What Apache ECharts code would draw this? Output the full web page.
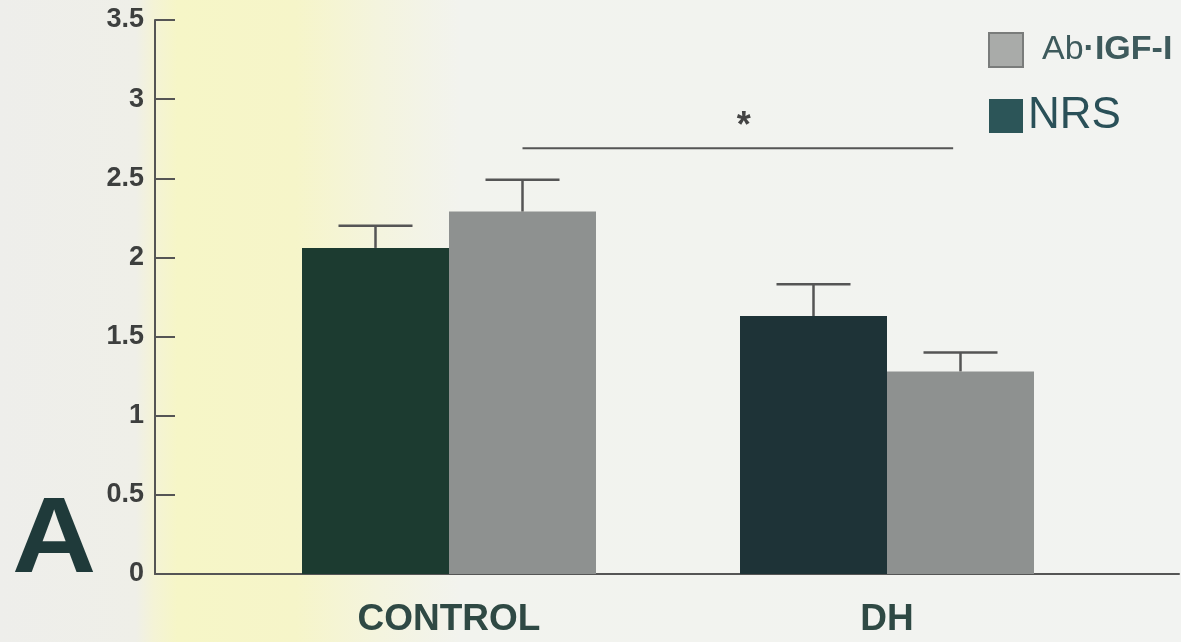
<!DOCTYPE html>
<html>
<head>
<meta charset="utf-8">
<script src="https://cdn.jsdelivr.net/npm/echarts@6/dist/echarts.min.js"></script>
<style>
  html, body { margin: 0; padding: 0; background: #f2f3f1; }
  #chart { width: 1181px; height: 642px; }
</style>
</head>
<body>
<div id="chart"></div>
<script>
// Group labels and series values (mean and upper error limit)
const categories = ['CONTROL', 'DH'];
const nrsMeans = [2.06, 1.63];
const nrsUpper = [2.20, 1.83];
const abMeans = [2.29, 1.28];
const abUpper = [2.49, 1.40];
const yTickValues = [0, 0.5, 1, 1.5, 2, 2.5, 3, 3.5];

// Significance bracket between CONTROL Ab·IGF-I and DH groups
const sigLevel = 2.69;
const starLevel = 2.86;

const BAR_W = 147;
const CAP_HALF = 37;
const nrsColors = ['#1c3b30', '#1e3337'];
const abColor = '#8e9190';

const chart = echarts.init(document.getElementById('chart'), null, { renderer: 'canvas' });

// error-bar rows: [categoryIndex, mean, upper, side(-1 left bar, +1 right bar)]
const errRows = [];
categories.forEach((c, i) => {
  errRows.push([i, nrsMeans[i], nrsUpper[i], -1]);
  errRows.push([i, abMeans[i], abUpper[i], 1]);
});

const option = {
  animation: false,
  backgroundColor: 'transparent',
  grid: [
    { left: 155, right: 2, top: 20, bottom: 68, containLabel: false, outerBoundsMode: 'none' },
    { left: 230, right: 75, top: 20, bottom: 68, containLabel: false, outerBoundsMode: 'none' }
  ],
  xAxis: [
    {
      gridIndex: 0, type: 'category', data: [''],
      axisLine: { show: true, lineStyle: { color: '#555', width: 2 } },
      axisTick: { show: false }, axisLabel: { show: false }, splitLine: { show: false }
    },
    {
      gridIndex: 1, type: 'category', data: categories,
      axisLine: { show: false }, axisTick: { show: false },
      axisLabel: {
        fontFamily: 'Liberation Sans, Arial, sans-serif', fontWeight: 'bold',
        fontSize: 37, color: '#2f4944', margin: 27,
        formatter: v => v,
        rich: {}
      }
    }
  ],
  yAxis: [
    {
      gridIndex: 0, type: 'value', min: 0, max: 3.5, interval: 0.5,
      axisLine: { show: true, lineStyle: { color: '#555', width: 2 } },
      axisTick: { show: true, inside: true, length: 20, lineStyle: { color: '#555', width: 2 } },
      axisLabel: {
        fontFamily: 'Liberation Sans, Arial, sans-serif', fontWeight: 'bold',
        fontSize: 27, color: '#3d3f3e', margin: 11, padding: [8, 0, 0, 0],
        formatter: v => (yTickValues.indexOf(v) >= 0 ? String(v) : '')
      },
      splitLine: { show: false }
    },
    { gridIndex: 1, type: 'value', min: 0, max: 3.5, interval: 0.5, show: false }
  ],
  legend: {
    orient: 'vertical', left: 983, top: 27,
    itemWidth: 34, itemHeight: 34, itemGap: 26,
    icon: 'rect', selectedMode: false,
    data: [
      { name: 'Ab·IGF-I', itemStyle: { color: '#a9aba9', borderColor: '#7a7c7b', borderWidth: 2 } },
      { name: 'NRS', itemStyle: { color: '#2c5558' } }
    ],
    formatter: name => (name === 'NRS' ? '{n|NRS}' : '{a|Ab}{b|·IGF-I}'),
    textStyle: {
      rich: {
        a: { fontFamily: 'Liberation Sans, Arial, sans-serif', fontSize: 34, color: '#3e5a5c', padding: [0, 0, 0, 14], lineHeight: 34 },
        b: { fontFamily: 'Liberation Sans, Arial, sans-serif', fontSize: 34, fontWeight: 'bold', color: '#3e5a5c', lineHeight: 34 },
        n: { fontFamily: 'Liberation Sans, Arial, sans-serif', fontSize: 44, color: '#2a5058', lineHeight: 38 }
      }
    }
  },
  graphic: [
    {
      type: 'rect', z: -10, silent: true,
      shape: { x: 0, y: 0, width: 1181, height: 642 },
      style: {
        fill: new echarts.graphic.LinearGradient(0, 0, 1, 0, [
          { offset: 0, color: '#eeeeeb' },
          { offset: 0.115, color: '#efefe8' },
          { offset: 0.13, color: '#f4f3d6' },
          { offset: 0.15, color: '#f6f6c7' },
          { offset: 0.25, color: '#f6f5c9' },
          { offset: 0.32, color: '#f4f4de' },
          { offset: 0.39, color: '#f2f3ee' },
          { offset: 1, color: '#f2f3f1' }
        ])
      }
    },
    {
      type: 'text', left: 12, top: 488, silent: true, scaleX: 1.08,
      style: {
        text: 'A', fontFamily: 'Liberation Sans, Arial, sans-serif',
        fontWeight: 'bold', fontSize: 108, fill: '#1f3a3a'
      }
    }
  ],
  series: [
    {
      name: 'NRS', type: 'bar', xAxisIndex: 1, yAxisIndex: 1,
      barWidth: BAR_W, barGap: '0%',
      itemStyle: { color: nrsColors[0] },
      data: nrsMeans.map((v, i) => ({ value: v, itemStyle: { color: nrsColors[i] } }))
    },
    {
      name: 'Ab·IGF-I', type: 'bar', xAxisIndex: 1, yAxisIndex: 1,
      barWidth: BAR_W, barGap: '0%',
      itemStyle: { color: abColor },
      data: abMeans
    },
    {
      name: 'error', type: 'custom', xAxisIndex: 1, yAxisIndex: 1, z: 5,
      data: errRows,
      renderItem: (params, api) => {
        const side = api.value(3);
        const base = api.coord([api.value(0), api.value(1)]);
        const top = api.coord([api.value(0), api.value(2)]);
        const x = base[0] + side * BAR_W / 2;
        const st = { stroke: '#555', lineWidth: 2.5 };
        return {
          type: 'group',
          children: [
            { type: 'line', shape: { x1: x, y1: base[1], x2: x, y2: top[1] }, style: st },
            { type: 'line', shape: { x1: x - CAP_HALF, y1: top[1], x2: x + CAP_HALF, y2: top[1] }, style: st }
          ]
        };
      }
    },
    {
      // significance bracket drawn on the bar grid's scales
      name: 'sig', type: 'custom', xAxisIndex: 1, yAxisIndex: 1, z: 5,
      data: [[0, 1, sigLevel, starLevel]],
      renderItem: (params, api) => {
        const a = api.coord([api.value(0), api.value(2)]);
        const b = api.coord([api.value(1), api.value(2)]);
        const s = api.coord([api.value(0), api.value(3)]);
        const x1 = a[0] + BAR_W / 2;
        const x2 = b[0] + BAR_W * 0.45;
        return {
          type: 'group',
          children: [
            { type: 'line', shape: { x1: x1, y1: a[1], x2: x2, y2: b[1] }, style: { stroke: '#555', lineWidth: 2 } },
            {
              type: 'text',
              style: {
                x: (x1 + x2) / 2 + 6, y: s[1] + 6, text: '*',
                fontFamily: 'Liberation Sans, Arial, sans-serif', fontWeight: 'bold',
                fontSize: 36, fill: '#444', align: 'center', verticalAlign: 'middle'
              }
            }
          ]
        };
      }
    }
  ]
};

chart.setOption(option);
</script>
</body>
</html>
